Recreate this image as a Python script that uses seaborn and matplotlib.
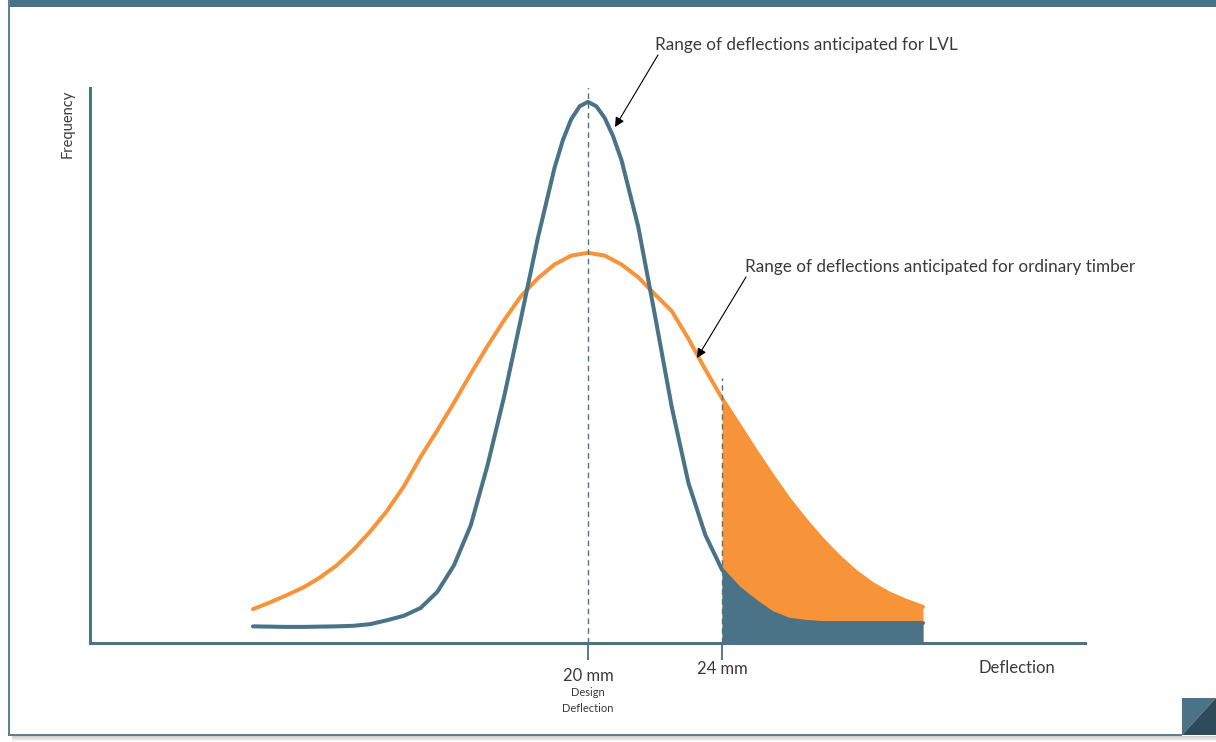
import numpy as np
import pandas as pd
import matplotlib
matplotlib.use("Agg")
import matplotlib.pyplot as plt
from matplotlib.patches import Rectangle, Polygon
import seaborn as sns

# deflection (mm) and relative frequency
lvl_x = [10.0, 11.0, 11.5, 12.0, 12.5, 13.0, 13.5, 14.0, 14.5, 15.0,
         15.5, 16.0, 16.5, 17.0, 17.5, 18.0, 18.5, 19.0, 19.25, 19.5,
         19.75, 20.0, 20.25, 20.5, 20.75, 21.0, 21.5, 22.0, 22.5, 23.0,
         23.5, 24.0, 24.5, 25.0, 25.5, 26.0, 26.5, 27.0, 28.0, 29.0, 30.0]
lvl_y = [3.0, 2.9, 2.9, 2.95, 3.0, 3.1, 3.4, 4.1, 4.9, 6.3,
         9.2, 14.0, 21.2, 32.0, 44.5, 58.5, 72.9, 85.6, 90.6, 94.4,
         96.7, 97.5, 96.7, 94.6, 91.3, 87.0, 75.0, 59.0, 42.5, 28.8,
         19.5, 13.2, 9.9, 7.5, 5.4, 4.2, 3.8, 3.6, 3.6, 3.6, 3.6]

timber_x = [10.0, 10.5, 11.0, 11.5, 12.0, 12.5, 13.0, 13.5, 14.0, 14.5,
            15.0, 15.5, 16.0, 16.5, 17.0, 17.5, 18.0, 18.5, 19.0, 19.5,
            20.0, 20.5, 21.0, 21.5, 22.0, 22.5, 23.0, 23.5, 24.0, 24.5,
            25.0, 25.5, 26.0, 26.5, 27.0, 27.5, 28.0, 28.5, 29.0, 29.5, 30.0]
timber_y = [6.1, 7.3, 8.6, 10.0, 11.8, 14.0, 16.8, 20.1, 23.8, 28.2,
            33.5, 38.3, 43.3, 48.5, 53.5, 58.2, 62.5, 65.7, 68.2, 69.8,
            70.3, 69.8, 68.2, 65.9, 62.8, 59.8, 54.8, 49.3, 44.1, 39.4,
            34.7, 30.2, 25.9, 22.1, 18.6, 15.5, 12.8, 10.6, 8.9, 7.6, 6.5]

design_deflection = 20
limit_deflection = 24
tick_labels = ["20 mm", "24 mm"]

TEAL = "#4b7388"
ORANGE = "#f7943a"
TEXT = "#3a3a3a"

sns.set_style("white")
plt.rcParams["font.family"] = ["Lato", "DejaVu Sans"]

W, H = 1216, 742
fig = plt.figure(figsize=(W / 100, H / 100), dpi=100)

# card background in pixel coordinates
bg = fig.add_axes([0, 0, 1, 1], zorder=0)
bg.set_xlim(0, W)
bg.set_ylim(H, 0)
bg.axis("off")
for i, a in enumerate([0.35, 0.25, 0.16, 0.09, 0.04]):
    bg.add_patch(Rectangle((12, 736 + i * 1.3), W - 12, 1.4, color="#777777",
                           alpha=a, lw=0))
bg.add_patch(Rectangle((8, 0), W - 8, 7, color="#46728a", lw=0))
bg.add_patch(Rectangle((7.5, 0), 2, 736, color="#5b8194", lw=0))
bg.add_patch(Rectangle((7.5, 733.5), 1182 - 7.5, 2.5, color="#5b8194", lw=0))
bg.add_patch(Polygon([(1182, 698), (1216, 698), (1182, 735)], closed=True,
                     color="#4b7388", lw=0))
bg.add_patch(Polygon([(1216, 698), (1216, 735), (1182, 735)], closed=True,
                     color="#2f4b5b", lw=0))

# main chart axes: left 90px, right 1085px, top 88px, baseline 643px
ax = fig.add_axes([90 / W, (H - 643) / H, 995 / W, 555 / H], zorder=1)
ax.patch.set_alpha(0)
ax.set_xlim(5.134, 34.836)
ax.set_ylim(0, 100)

lvl = pd.DataFrame({"deflection": lvl_x, "frequency": lvl_y})
timber = pd.DataFrame({"deflection": timber_x, "frequency": timber_y})

t_tail = timber[timber["deflection"] >= limit_deflection]
l_tail = lvl[lvl["deflection"] >= limit_deflection]
ax.fill_between(t_tail["deflection"], 0, t_tail["frequency"], color=ORANGE,
                lw=0, zorder=2)
ax.fill_between(l_tail["deflection"], 0, l_tail["frequency"], color=TEAL,
                lw=0, zorder=3)

sns.lineplot(data=timber, x="deflection", y="frequency", color=ORANGE,
             lw=2.9, ax=ax, zorder=4)
sns.lineplot(data=lvl, x="deflection", y="frequency", color=TEAL,
             lw=2.9, ax=ax, zorder=5)

ax.plot([design_deflection] * 2, [0, 100.5], color=TEAL, lw=1.0,
        dashes=(4, 3), zorder=6)
ax.plot([limit_deflection] * 2, [0, 47.8], color=TEAL, lw=1.0,
        dashes=(4, 3), zorder=6)

for s in ["top", "right"]:
    ax.spines[s].set_visible(False)
for s in ["left", "bottom"]:
    ax.spines[s].set_color(TEAL)
    ax.spines[s].set_linewidth(2.2)
ax.set_xticks([design_deflection, limit_deflection])
ax.set_xticklabels([])
ax.set_yticks([])
ax.tick_params(axis="x", direction="out", length=12, width=1.3, color=TEAL,
               bottom=True)
ax.set_xlabel("")
ax.set_ylabel("")

# text in pixel coordinates
bg.text(68, 124, "Frequency", rotation=90, ha="center", va="center",
        fontsize=10.5, color=TEXT, zorder=5)
bg.text(1017, 668, "Deflection", ha="center", va="center", fontsize=12,
        color=TEXT, zorder=5)
bg.text(588, 676, tick_labels[0], ha="center", va="center", fontsize=12,
        color=TEXT, zorder=5)
bg.text(588, 693, "Design", ha="center", va="center", fontsize=8,
        color=TEXT, zorder=5)
bg.text(588, 708, "Deflection", ha="center", va="center", fontsize=8,
        color=TEXT, zorder=5)
bg.text(722, 669, tick_labels[1], ha="center", va="center", fontsize=12,
        color=TEXT, zorder=5)

top = fig.add_axes([0, 0, 1, 1], zorder=2)
top.set_xlim(0, W)
top.set_ylim(H, 0)
top.axis("off")
top.patch.set_alpha(0)
top.annotate("", xy=(615, 127), xytext=(658, 55),
             arrowprops=dict(arrowstyle="-|>", color="black", lw=0.8,
                             mutation_scale=14, shrinkA=0, shrinkB=0))
top.text(655, 45, "Range of deflections anticipated for LVL", ha="left",
         va="center", fontsize=12.3, color=TEXT)
top.annotate("", xy=(697, 358), xytext=(746, 277),
             arrowprops=dict(arrowstyle="-|>", color="black", lw=0.8,
                             mutation_scale=14, shrinkA=0, shrinkB=0))
top.text(745, 267, "Range of deflections anticipated for ordinary timber",
         ha="left", va="center", fontsize=12.3, color=TEXT)

fig.savefig("out.png", dpi=100)
